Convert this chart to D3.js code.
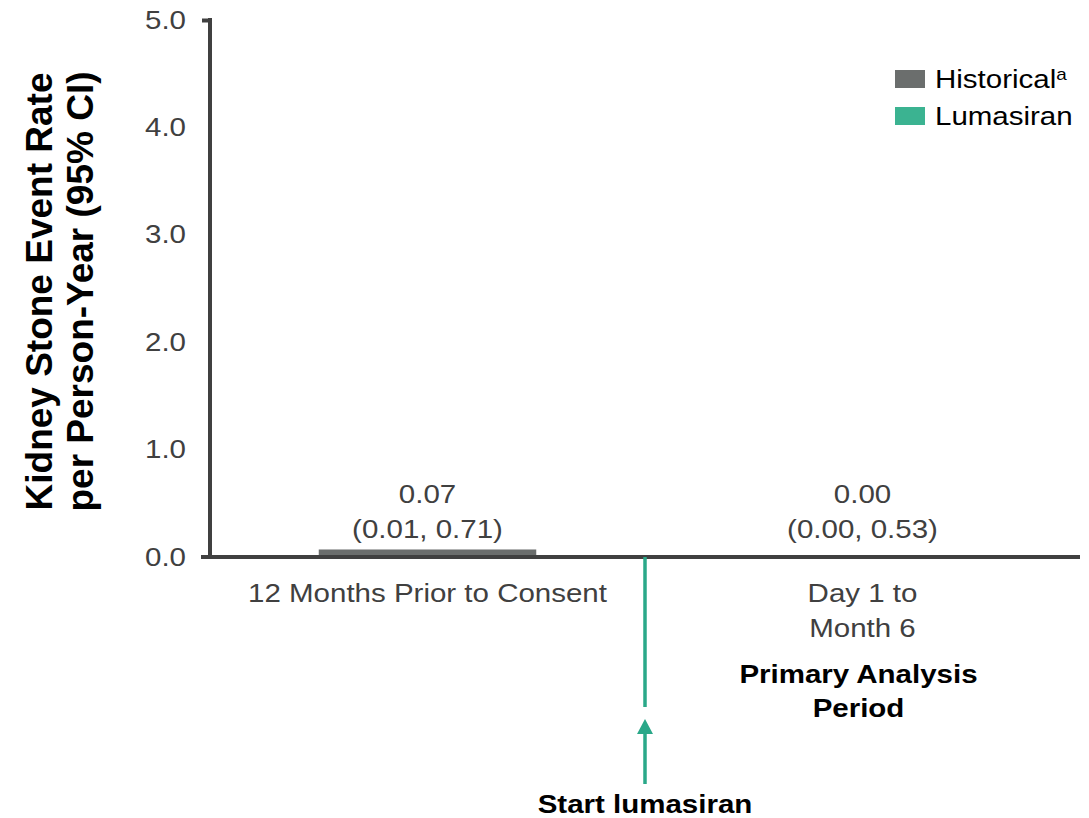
<!DOCTYPE html>
<html>
<head>
<meta charset="utf-8">
<script src="https://cdn.jsdelivr.net/npm/d3@7"></script>
<style>
  body { margin: 0; background: #fff; }
  text { font-family: Arial, "Liberation Sans", sans-serif; }
</style>
</head>
<body>
<div id="chart"></div>
<script>
// chart data
const periods = ['12 Months Prior to Consent', 'Day 1 to Month 6'];
const periodLines = [['12 Months Prior to Consent'], ['Day 1 to', 'Month 6']];
const series = ['Historical', 'Lumasiran'];
const rates = [0.07, 0.00];
const ciLow = [0.01, 0.00];
const ciHigh = [0.71, 0.53];
const yTicks = [0, 1, 2, 3, 4, 5];

const colours = { Historical: '#6b6e6d', Lumasiran: '#3bb391' };
const axisColour = '#404040';
const arrowColour = '#2aa889';
const sx = 1.18; // source text is a little wider than plain Arial

const width = 1089, height = 818;
const margin = { top: 20, right: 9, bottom: 261, left: 210 };
const innerW = width - margin.left - margin.right;
const innerH = height - margin.top - margin.bottom;

const svg = d3.select('#chart').append('svg')
    .attr('width', width)
    .attr('height', height);

const g = svg.append('g')
    .attr('transform', 'translate(' + margin.left + ',' + margin.top + ')');

const x = d3.scaleBand()
    .domain(periods)
    .range([0, innerW])
    .paddingInner(0.5)
    .paddingOuter(0.25);

const y = d3.scaleLinear()
    .domain([0, 5])
    .range([innerH, 0]);

// places a stretched text line at (px, py)
function label(parent, px, py, txt, opts) {
  opts = opts || {};
  return parent.append('text')
      .attr('transform', 'translate(' + px + ',' + py + ') scale(' + sx + ',1)')
      .attr('text-anchor', opts.anchor || 'middle')
      .attr('fill', opts.fill || axisColour)
      .style('font-size', (opts.size || 25) + 'px')
      .style('font-weight', opts.bold ? 'bold' : 'normal')
      .text(txt);
}

// y axis
const yAxis = g.append('g')
    .call(d3.axisLeft(y).tickValues(yTicks).tickFormat(d3.format('.1f')).tickSize(8));
yAxis.select('.domain')
    .attr('stroke', axisColour)
    .attr('stroke-width', 4)
    .attr('d', 'M0,' + (y(5) - 2) + 'V' + y(0));
yAxis.selectAll('.tick line')
    .attr('stroke', axisColour)
    .attr('stroke-width', 4)
    .attr('opacity', d => d === 5 ? 1 : 0);
yAxis.selectAll('.tick text')
    .attr('x', -24 / sx)
    .attr('transform', 'scale(' + sx + ',1)')
    .attr('fill', axisColour)
    .style('font-size', '25px');

// bars
g.selectAll('.bar')
    .data(periods)
  .enter().append('rect')
    .attr('class', 'bar')
    .attr('x', d => x(d))
    .attr('width', x.bandwidth())
    .attr('y', (d, i) => y(rates[i]))
    .attr('height', (d, i) => y(0) - y(rates[i]))
    .attr('fill', (d, i) => colours[series[i]]);

// x axis line
g.append('line')
    .attr('x1', -9)
    .attr('x2', innerW)
    .attr('y1', y(0))
    .attr('y2', y(0))
    .attr('stroke', axisColour)
    .attr('stroke-width', 4);

// value labels with CI
periods.forEach((p, i) => {
  const cx = x(p) + x.bandwidth() / 2;
  label(g, cx, y(0) - 54, rates[i].toFixed(2));
  label(g, cx, y(0) - 19, '(' + ciLow[i].toFixed(2) + ', ' + ciHigh[i].toFixed(2) + ')');
});

// category labels
periods.forEach((p, i) => {
  periodLines[i].forEach((line, j) => {
    label(g, x(p) + x.bandwidth() / 2, y(0) + 45 + j * 35, line);
  });
});

// primary analysis period
['Primary Analysis', 'Period'].forEach((line, j) => {
  label(g, x(periods[1]) + x.bandwidth() / 2 - 4, y(0) + 126 + j * 34, line,
        { fill: '#000', bold: true });
});

// start lumasiran marker
const startX = (x(periods[0]) + x.bandwidth() + x(periods[1])) / 2;
g.append('line')
    .attr('x1', startX).attr('x2', startX)
    .attr('y1', y(0)).attr('y2', y(0) + 150)
    .attr('stroke', arrowColour)
    .attr('stroke-width', 3.5);
g.append('line')
    .attr('x1', startX).attr('x2', startX)
    .attr('y1', y(0) + 175).attr('y2', y(0) + 227)
    .attr('stroke', arrowColour)
    .attr('stroke-width', 3.5);
g.append('path')
    .attr('d', d3.line()([[startX - 8, y(0) + 177], [startX, y(0) + 162], [startX + 8, y(0) + 177]]) + 'Z')
    .attr('fill', arrowColour);
label(g, startX, y(0) + 256, 'Start lumasiran', { fill: '#000', bold: true });

// y axis title
const yt = svg.append('text')
    .attr('transform', 'translate(0,' + (margin.top + innerH / 2 + 3) + ') rotate(-90)')
    .attr('text-anchor', 'middle')
    .style('font-size', '37px')
    .style('font-weight', 'bold');
yt.append('tspan').attr('x', 0).attr('y', 52).text('Kidney Stone Event Rate');
yt.append('tspan').attr('x', 0).attr('y', 93).text('per Person-Year (95% CI)');

// legend
const legend = svg.append('g')
    .attr('transform', 'translate(895,70)');
series.forEach((s, i) => {
  const row = legend.append('g').attr('transform', 'translate(0,' + i * 37 + ')');
  row.append('rect')
      .attr('width', 30)
      .attr('height', 18)
      .attr('fill', colours[s]);
  const t = label(row, 40, 18, s, { anchor: 'start', fill: '#000' });
  if (s === 'Historical') {
    t.append('tspan').attr('dy', -8).style('font-size', '16px').text('a');
  }
});
</script>
</body>
</html>
